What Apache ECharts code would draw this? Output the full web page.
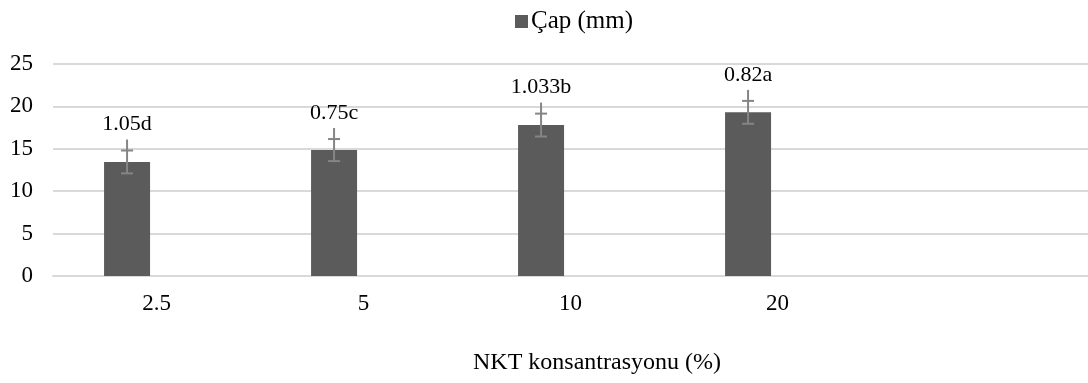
<!DOCTYPE html>
<html>
<head>
<meta charset="utf-8">
<style>html,body{margin:0;padding:0;background:#fff}#c{width:1088px;height:383px}</style>
<script src="https://cdn.jsdelivr.net/npm/echarts@6/dist/echarts.min.js"></script>
</head>
<body>
<div id="c"></div>
<script>
// ---- data ----
const categories = ['2.5', '5', '10', '20', ''];
const seriesName = 'Çap (mm)';
const values = [13.45, 14.85, 17.8, 19.3];
const errors = [1.35, 1.3, 1.35, 1.35];
const errLabels = ['1.05d', '0.75c', '1.033b', '0.82a'];
const yTicks = [0, 5, 10, 15, 20, 25];
const xTitle = 'NKT konsantrasyonu (%)';

// ---- styling ----
const FONT = '"Liberation Serif", "Times New Roman", serif';
const BAR_W = 46;
const BAR_GAP = 0.28;
const BAR_OFFSET = -(BAR_W * (1 + BAR_GAP)) / 2;

const chart = echarts.init(document.getElementById('c'));
const errData = values.map((v, i) => [i, v - errors[i], v + errors[i], errLabels[i]]);

chart.setOption({
  animation: false,
  backgroundColor: '#fff',
  textStyle: { fontFamily: FONT },
  legend: {
    data: [seriesName],
    top: 4,
    left: 510,
    icon: 'rect',
    itemWidth: 13,
    itemHeight: 13,
    itemGap: 4,
    textStyle: { fontFamily: FONT, fontSize: 25, color: '#000', padding: [0, 0, 0, -2] }
  },
  grid: { left: 53, right: -7, top: 64, bottom: 107 },
  xAxis: {
    type: 'category',
    data: categories,
    axisLine: { lineStyle: { color: '#d9d9d9', width: 2 } },
    axisTick: { show: false },
    axisLabel: { fontFamily: FONT, fontSize: 23, color: '#000', margin: 16 }
  },
  yAxis: {
    type: 'value',
    min: yTicks[0],
    max: yTicks[yTicks.length - 1],
    interval: 5,
    axisLine: { show: false },
    axisTick: { show: false },
    splitLine: { lineStyle: { color: '#d9d9d9', width: 2 } },
    axisLabel: { fontFamily: FONT, fontSize: 23, color: '#000', margin: 20 }
  },
  graphic: [{
    type: 'text',
    left: 473,
    top: 351,
    style: { text: xTitle, font: '24px ' + FONT, fill: '#000' }
  }],
  series: [
    {
      name: seriesName,
      type: 'bar',
      data: values,
      barWidth: BAR_W,
      barGap: (BAR_GAP * 100) + '%',
      itemStyle: { color: '#5b5b5b' }
    },
    {
      name: 'empty',
      type: 'bar',
      data: values.map(() => '-'),
      barWidth: BAR_W
    },
    {
      type: 'custom',
      z: 10,
      data: errData,
      encode: { x: 0, y: [1, 2] },
      renderItem: function (params, api) {
        const lo = api.coord([api.value(0), api.value(1)]);
        const hi = api.coord([api.value(0), api.value(2)]);
        const x = lo[0] + BAR_OFFSET;
        const cap = 6;
        const st = { stroke: '#858585', lineWidth: 2 };
        return {
          type: 'group',
          children: [
            { type: 'line', shape: { x1: x, y1: lo[1], x2: x, y2: hi[1] - 11 }, style: st },
            { type: 'line', shape: { x1: x - cap, y1: hi[1], x2: x + cap, y2: hi[1] }, style: st },
            { type: 'line', shape: { x1: x - cap, y1: lo[1], x2: x + cap, y2: lo[1] }, style: st },
            {
              type: 'text',
              style: {
                text: errLabels[params.dataIndex],
                x: x, y: hi[1] - 26,
                align: 'center', verticalAlign: 'middle',
                font: '22px ' + FONT, fill: '#000'
              }
            }
          ]
        };
      }
    }
  ]
});
</script>
</body>
</html>
